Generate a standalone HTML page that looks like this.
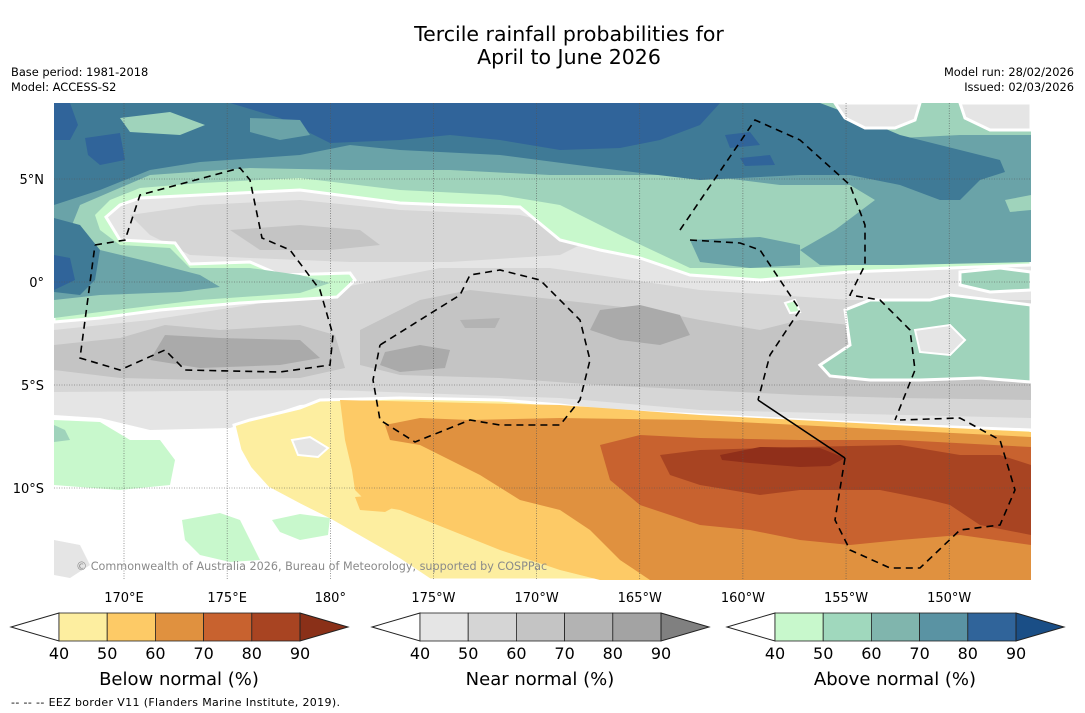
<!DOCTYPE html>
<html><head><meta charset="utf-8"><style>
body{margin:0;background:#fff;width:1085px;height:713px;overflow:hidden;font-family:"DejaVu Sans","Liberation Sans",sans-serif}
svg{position:absolute;left:0;top:0}
</style></head><body>
<svg id="s" width="1085" height="713" xmlns="http://www.w3.org/2000/svg" font-family="DejaVu Sans, Liberation Sans, sans-serif">
<defs><clipPath id="mc"><rect x="54" y="103" width="977" height="477"/></clipPath></defs>
<text x="569" y="41" font-size="20.5" text-anchor="middle">Tercile rainfall probabilities for</text>
<text x="569" y="64" font-size="20.5" text-anchor="middle">April to June 2026</text>
<text x="11" y="76" font-size="11.4">Base period: 1981-2018</text>
<text x="11" y="91" font-size="11.4">Model: ACCESS-S2</text>
<text x="1074" y="76" font-size="11.4" text-anchor="end">Model run: 28/02/2026</text>
<text x="1074" y="91" font-size="11.4" text-anchor="end">Issued: 02/03/2026</text>

<g clip-path="url(#mc)">
<rect x="54" y="103" width="977" height="477" fill="#fff"/>
<polygon fill="#e5e5e5" points="54,103 1031,103 1031,432 900,426 800,420 700,415 560,408 340,402 300,405 230,428 150,430 100,418 54,415"/>
<polygon fill="#d6d6d6" points="54,330 150,320 250,305 330,290 440,268 550,268 700,290 850,300 1031,300 1031,418 700,410 560,398 330,390 54,392"/>
<polygon fill="#d6d6d6" points="130,215 200,205 300,200 400,210 520,215 600,235 560,255 450,262 350,262 250,258 190,255 150,235"/>
<polygon fill="#c4c4c4" points="54,345 120,338 165,325 220,330 300,325 335,335 345,368 300,378 200,380 120,378 54,370"/>
<polygon fill="#c4c4c4" points="360,330 420,300 470,290 560,300 650,310 700,320 760,330 800,320 900,330 1031,330 1031,400 900,398 800,395 700,390 600,385 500,378 400,375 360,365"/>
<polygon fill="#c4c4c4" points="230,230 300,225 360,230 380,245 330,250 260,250"/>
<polygon fill="#aaaaaa" points="165,335 220,338 300,340 320,358 280,365 200,368 150,360"/>
<polygon fill="#aaaaaa" points="600,310 640,305 680,315 690,335 660,345 620,340 590,330"/>
<polygon fill="#aaaaaa" points="385,352 420,345 450,350 445,368 400,372 380,365"/>
<polygon fill="#b3b3b3" points="460,320 500,318 495,328 465,328"/>
<polygon fill="#e5e5e5" points="54,540 80,545 90,565 70,578 54,575"/>
<polygon fill="#c8f8cc" stroke="#fff" stroke-width="3" points="54,103 1031,103 1031,265 950,268 850,272 760,280 690,275 640,258 600,250 560,240 520,207 450,205 400,203 300,190 200,195 140,198 120,205 106,217 120,240 175,243 190,264 250,262 280,275 350,273 355,280 337,297 290,300 240,303 160,310 100,318 54,322"/>
<polygon fill="#9fd3bb" points="54,103 1031,103 1031,258 900,262 800,268 690,268 620,235 560,205 500,195 400,190 300,178 200,183 140,188 110,200 95,215 100,230 120,245 170,248 190,268 250,268 300,275 330,283 300,293 200,300 100,312 54,318"/>
<polygon fill="#6aa3a8" points="54,103 810,103 850,128 900,138 960,135 1031,135 1031,262 900,265 820,265 800,250 835,230 875,200 850,185 780,185 700,175 650,175 550,175 450,170 350,170 250,168 150,175 80,205 70,230 100,250 150,262 200,275 220,287 180,292 100,295 54,300"/>
<polygon fill="#6aa3a8" points="690,240 760,237 800,245 800,265 750,268 700,262"/>
<polygon fill="#9fd3bb" points="1005,200 1031,195 1031,210 1010,212"/>
<polygon fill="#3f7a96" points="54,103 820,103 860,118 900,135 960,150 1000,160 1005,172 980,180 960,200 940,200 900,185 850,175 800,175 700,180 600,168 500,155 400,150 350,145 300,155 200,162 150,170 100,190 54,205"/>
<polygon fill="#3f7a96" points="54,218 80,225 100,250 95,280 80,295 54,292"/>
<polygon fill="#30649a" points="54,255 70,258 75,280 54,290"/>
<polygon fill="#30649a" points="54,103 230,103 280,118 330,143 400,140 450,135 500,140 560,150 620,148 660,140 700,125 720,103"/>
<polygon fill="#30649a" points="620,120 650,125 655,140 620,145"/>
<polygon fill="#30649a" points="54,103 70,103 78,125 70,140 54,140"/>
<polygon fill="#30649a" points="85,138 120,133 125,160 100,165 88,155"/>
<polygon fill="#30649a" points="725,135 750,132 760,145 730,148"/>
<polygon fill="#30649a" points="740,158 770,155 775,165 745,166"/>
<polygon fill="#6aa3a8" points="250,118 300,120 310,135 280,140 250,132"/>
<polygon fill="#9fd3bb" points="120,118 170,112 205,125 180,135 130,132"/>
<polygon fill="#e5e5e5" stroke="#fff" stroke-width="3" points="835,103 920,103 915,120 895,128 865,128 845,118"/>
<polygon fill="#e5e5e5" stroke="#fff" stroke-width="3" points="960,103 1031,103 1031,130 990,130 965,118"/>
<polygon fill="#9fd3bb" stroke="#fff" stroke-width="3" points="820,365 850,345 845,310 870,300 930,300 950,295 1031,305 1031,382 980,378 920,380 870,380 830,376"/>
<polygon fill="#e5e5e5" stroke="#fff" stroke-width="2" points="915,330 950,325 965,340 950,355 920,352"/>
<polygon fill="#9fd3bb" stroke="#fff" stroke-width="3" points="960,272 1000,268 1031,272 1031,290 990,292 960,285"/>
<polygon fill="#c8f8cc" stroke="#fff" stroke-width="2" points="785,303 795,300 800,312 790,313"/>
<polygon fill="#fdeea0" stroke="#fff" stroke-width="3" points="234,425 250,420 300,408 320,400 400,398 500,400 560,405 600,410 700,415 800,420 900,425 1031,430 1031,580 430,580 400,560 330,520 300,505 268,488 250,468 240,450"/>
<polygon fill="#e5e5e5" stroke="#fff" stroke-width="2" points="292,440 310,437 328,448 318,457 298,455"/>
<polygon fill="#fdca66" points="340,400 560,405 700,415 1031,432 1031,580 600,580 560,570 500,550 430,522 400,510 370,505 355,490 352,470 345,440"/>
<polygon fill="#fdca66" points="355,497 380,495 398,505 385,512 360,510"/>
<polygon fill="#e0913f" points="385,425 420,418 470,420 560,418 700,420 1031,437 1031,580 650,580 620,560 590,530 560,510 520,500 480,475 450,460 420,445 390,440"/>
<polygon fill="#c8622f" points="600,445 640,435 700,438 800,440 900,440 1031,447 1031,545 960,535 900,540 850,545 800,540 750,530 700,525 640,505 610,480"/>
<polygon fill="#a84422" points="660,455 700,450 800,447 900,445 960,455 1000,455 1031,465 1031,535 980,525 950,505 930,500 880,490 800,490 760,495 700,485 670,475"/>
<polygon fill="#902f1a" points="720,455 760,447 820,448 845,458 830,466 800,467 750,463 722,460"/>
<polygon fill="#c8f8cc" points="54,420 100,422 130,440 160,440 175,460 170,485 120,490 80,487 54,485"/>
<polygon fill="#9fd3bb" points="54,425 65,430 70,440 54,442"/>
<polygon fill="#c8f8cc" points="182,520 220,513 240,520 250,540 260,560 230,562 200,555 185,540"/>
<polygon fill="#c8f8cc" points="272,520 300,514 330,518 328,535 300,540 280,532"/>
<g id="grid" stroke="#555" stroke-width="0.6" stroke-dasharray="1,1.5" fill="none"></g>
<g stroke="#000" stroke-width="1.6" stroke-dasharray="7,5" fill="none">
<polyline points="95,245 125,240 140,195 240,168 250,180 262,238 290,250 320,290 333,335 330,365 280,372 185,370 165,350 120,370 80,358 95,245"/>
<polyline points="380,345 460,295 470,275 500,270 540,280 580,320 590,360 580,400 560,425 500,425 470,420 415,442 380,420 373,380 380,345"/>
<polyline points="680,230 755,120 800,140 850,185 865,225 865,265 850,295 880,300 910,330 915,370 895,420"/>
<polyline points="690,240 740,243 760,250 800,310 770,355 758,400"/>
<polyline points="758,400 845,458" stroke-dasharray="none"/>
<polyline points="845,458 835,520 850,550 890,568 920,568 960,530 1000,525 1015,490 1000,440 960,418 900,420"/>
</g>
<text x="76" y="570" font-size="11.2" fill="#8a8a8a">© Commonwealth of Australia 2026, Bureau of Meteorology, supported by COSPPac</text>
</g>
<g id="axlabels" font-size="13"></g>
<g id="cbars"></g>
<text x="11" y="706" font-size="11" textLength="329" lengthAdjust="spacing">--  --  -- EEZ border V11 (Flanders Marine Institute, 2019).</text>
</svg>
<script>
const lonLabels=["170°E","175°E","180°","175°W","170°W","165°W","160°W","155°W","150°W"];
const lonValues=[170,175,180,185,190,195,200,205,210];
const latLabels=["5°N","0°","5°S","10°S"];
const latValues=[5,0,-5,-10];
const tickLabels=["40","50","60","70","80","90"];
const belowColors=["#fdeea0","#fdca66","#e0913f","#c8622f","#a84422","#8a3018"];
const nearColors=["#e5e5e5","#d5d5d5","#c4c4c4","#b3b3b3","#a3a3a3","#808080"];
const aboveColors=["#c8f8cc","#a0d8bd","#80b5ad","#5a93a3","#30649a","#1a4e86"];
const barTitles=["Below normal (%)","Near normal (%)","Above normal (%)"];
const NS="http://www.w3.org/2000/svg";
const xs=lon=>124+(lon-170)*20.63;
const ys=lat=>282-lat*20.6;
const grid=document.getElementById('grid'),ax=document.getElementById('axlabels');
function mk(t,a,p){const e=document.createElementNS(NS,t);for(const k in a)e.setAttribute(k,a[k]);p.appendChild(e);return e;}
lonValues.forEach((v,i)=>{const x=xs(v);
 const l=mk('line',{x1:x,x2:x,y1:103,y2:580},grid);
 
 
 const t=mk('text',{x:x,y:602,'text-anchor':'middle'},ax);t.textContent=lonLabels[i];
 
 });
latValues.forEach((v,i)=>{const y=ys(v);
 const l=mk('line',{x1:54,x2:1031,y1:y,y2:y},grid);
 
 
 const t=mk('text',{x:44,y:y+5,'text-anchor':'end'},ax);t.textContent=latLabels[i];
 
 });
const cb=document.getElementById('cbars');
[[59,belowColors],[420,nearColors],[775,aboveColors]].forEach(([x0,cols],j)=>{
 const g=mk('g',{},cb);
 
 
 mk('polygon',{points:`${x0},613 ${x0-48},627 ${x0},641`,fill:'#fff',stroke:'#222','stroke-width':1},g);
 for(let i=0;i<5;i++)mk('rect',{x:x0+i*48.2,y:613,width:48.2,height:28,fill:cols[i],stroke:'#222','stroke-width':0.8},g);
 const xe=x0+241;
 mk('polygon',{points:`${xe},613 ${xe+48},627 ${xe},641`,fill:cols[5],stroke:'#222','stroke-width':1},g);
 tickLabels.forEach((t,i)=>{const e=mk('text',{x:x0+i*48.2,y:659,'font-size':16,'text-anchor':'middle'},g);e.textContent=t;});
 const tt=mk('text',{x:x0+120,y:685,'font-size':18,'text-anchor':'middle'},g);tt.textContent=barTitles[j];
});
</script>
</body></html>
